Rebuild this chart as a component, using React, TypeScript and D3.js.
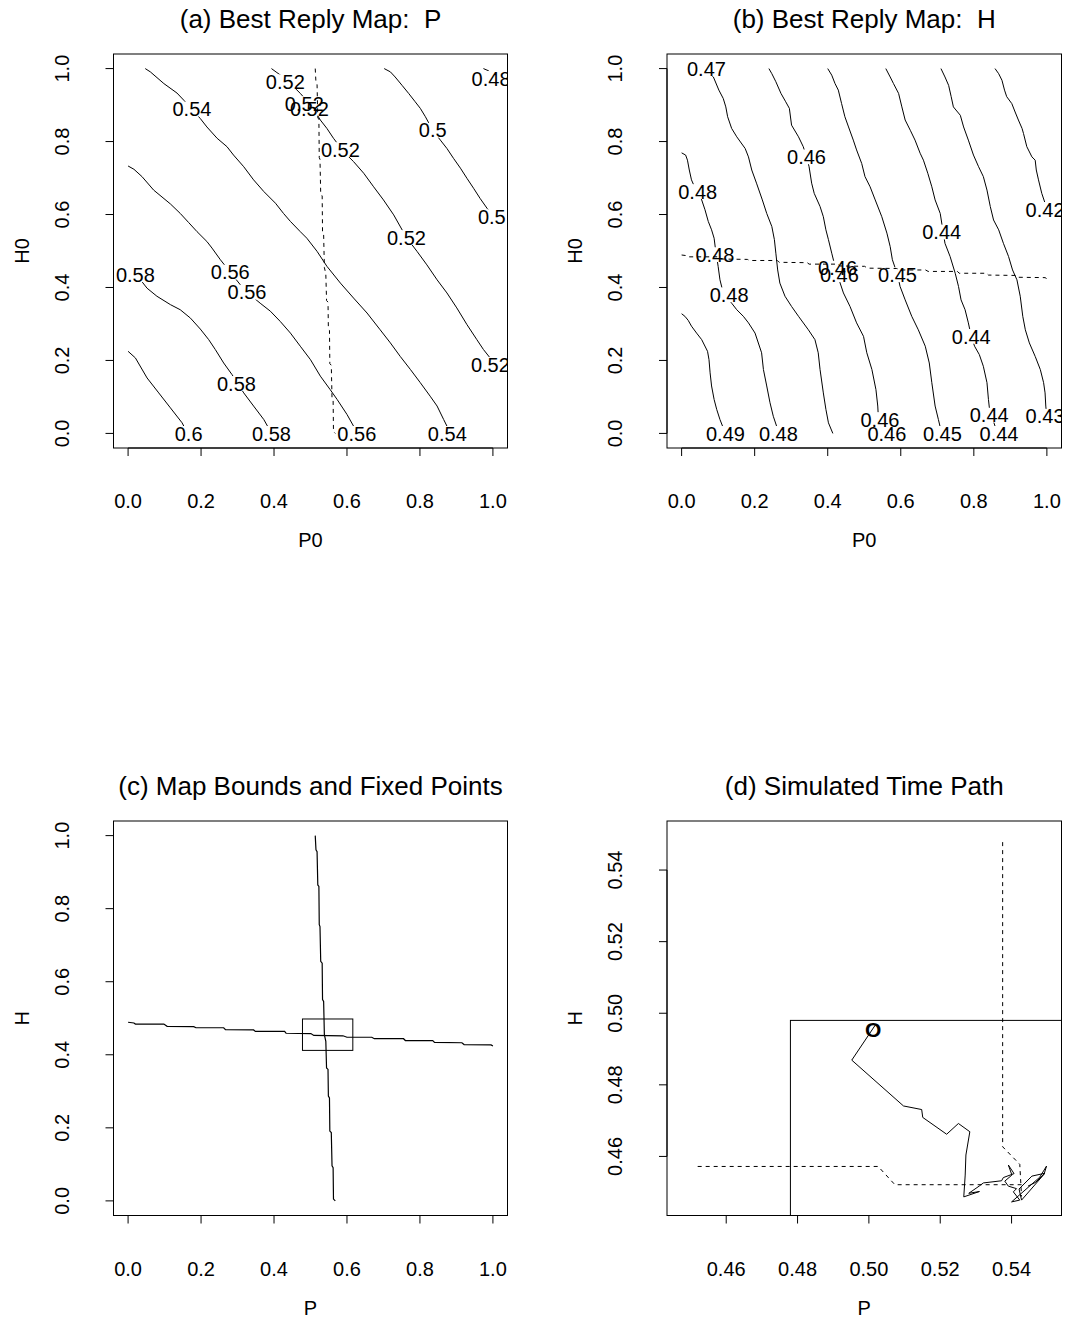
import React from "react";
import * as d3 from "d3";

type Pt = [number, number];

const W = 1069;
const H = 1319;
const FONT = "Liberation Sans, Arial, Helvetica, sans-serif";

// ---------------- data ----------------
const unitTicks = [0, 0.2, 0.4, 0.6, 0.8, 1.0];
const zoomTicks = [0.46, 0.48, 0.5, 0.52, 0.54];

// (a) best reply map for P: contour levels and lines (P0, H0)
const mapPLevels = ["0.6", "0.58", "0.56", "0.54", "0.52", "0.5", "0.48"];
const mapPLines: Pt[][] = [
  [[0, 0.225], [0.02, 0.207], [0.052, 0.152], [0.084, 0.111], [0.116, 0.07], [0.148, 0.029], [0.163, 0]],
  [[0, 0.453], [0.034, 0.421], [0.052, 0.398], [0.079, 0.376], [0.116, 0.353], [0.143, 0.339], [0.171, 0.316], [0.198, 0.286], [0.221, 0.257], [0.239, 0.23], [0.262, 0.193], [0.285, 0.161], [0.317, 0.111], [0.344, 0.075], [0.372, 0.038], [0.385, 0.015], [0.395, 0]],
  [[0, 0.733], [0.016, 0.724], [0.038, 0.704], [0.07, 0.667], [0.116, 0.629], [0.143, 0.603], [0.166, 0.578], [0.189, 0.553], [0.216, 0.526], [0.23, 0.508], [0.253, 0.476], [0.28, 0.442], [0.308, 0.407], [0.326, 0.387], [0.362, 0.357], [0.39, 0.335], [0.417, 0.307], [0.445, 0.275], [0.472, 0.239], [0.5, 0.202], [0.527, 0.157], [0.554, 0.12], [0.573, 0.093], [0.6, 0.052], [0.618, 0.02], [0.623, 0]],
  [[0.047, 1.0], [0.061, 0.991], [0.098, 0.959], [0.134, 0.933], [0.153, 0.913], [0.175, 0.889], [0.198, 0.863], [0.216, 0.84], [0.244, 0.809], [0.271, 0.786], [0.289, 0.763], [0.317, 0.731], [0.344, 0.695], [0.372, 0.663], [0.404, 0.631], [0.426, 0.603], [0.445, 0.581], [0.472, 0.553], [0.49, 0.535], [0.518, 0.499], [0.545, 0.458], [0.582, 0.412], [0.618, 0.371], [0.655, 0.33], [0.691, 0.284], [0.719, 0.248], [0.746, 0.211], [0.774, 0.175], [0.801, 0.139], [0.828, 0.102], [0.847, 0.075], [0.865, 0.038], [0.874, 0.02], [0.879, 0]],
  [[0.393, 1.0], [0.408, 0.989], [0.431, 0.973], [0.454, 0.95], [0.472, 0.932], [0.49, 0.912], [0.509, 0.888], [0.527, 0.859], [0.545, 0.836], [0.563, 0.809], [0.582, 0.784], [0.6, 0.763], [0.618, 0.745], [0.646, 0.713], [0.673, 0.676], [0.7, 0.64], [0.728, 0.599], [0.763, 0.537], [0.792, 0.499], [0.819, 0.462], [0.847, 0.421], [0.874, 0.385], [0.901, 0.344], [0.929, 0.298], [0.956, 0.257], [0.974, 0.23], [0.997, 0.201]],
  [[0.702, 1.0], [0.719, 0.991], [0.732, 0.977], [0.751, 0.954], [0.769, 0.932], [0.787, 0.909], [0.801, 0.891], [0.815, 0.868], [0.835, 0.831], [0.856, 0.804], [0.874, 0.781], [0.892, 0.754], [0.911, 0.727], [0.929, 0.699], [0.947, 0.672], [0.965, 0.644], [0.984, 0.617], [0.997, 0.603]],
  [[0.974, 1.0], [0.988, 0.994], [0.997, 0.986]],
];
// label: [line index, P0, H0]
const mapPLabels: [number, number, number][] = [
  [0, 0.166, 0],
  [1, 0.02, 0.435], [1, 0.297, 0.137], [1, 0.393, 0],
  [2, 0.28, 0.442], [2, 0.326, 0.387], [2, 0.627, 0],
  [3, 0.175, 0.889], [3, 0.875, 0],
  [4, 0.431, 0.964], [4, 0.483, 0.904], [4, 0.497, 0.891], [4, 0.582, 0.778], [4, 0.763, 0.537], [4, 0.993, 0.189],
  [5, 0.835, 0.831], [5, 0.997, 0.594],
  [6, 0.995, 0.973],
];

// (b) best reply map for H
const mapHLevels = ["0.49", "0.48", "0.47", "0.46", "0.45", "0.44", "0.43", "0.42"];
const mapHLines: Pt[][] = [
  [[0, 0.328], [0.009, 0.321], [0.018, 0.31], [0.027, 0.294], [0.041, 0.275], [0.055, 0.257], [0.071, 0.225], [0.075, 0.202], [0.078, 0.166], [0.082, 0.13], [0.089, 0.093], [0.096, 0.066], [0.105, 0.038], [0.114, 0.015], [0.119, 0]],
  [[0, 0.769], [0.011, 0.763], [0.016, 0.749], [0.021, 0.722], [0.027, 0.695], [0.037, 0.672], [0.055, 0.64], [0.064, 0.613], [0.073, 0.581], [0.082, 0.558], [0.089, 0.535], [0.093, 0.503], [0.1, 0.458], [0.105, 0.421], [0.114, 0.385], [0.137, 0.357], [0.151, 0.339], [0.169, 0.321], [0.183, 0.303], [0.201, 0.275], [0.219, 0.221], [0.224, 0.175], [0.233, 0.13], [0.242, 0.084], [0.251, 0.047], [0.26, 0.02], [0.265, 0]],
  [[0.064, 1.0], [0.073, 0.991], [0.087, 0.977], [0.102, 0.941], [0.114, 0.918], [0.121, 0.895], [0.126, 0.868], [0.137, 0.836], [0.151, 0.813], [0.174, 0.781], [0.183, 0.758], [0.192, 0.722], [0.205, 0.686], [0.221, 0.64], [0.233, 0.603], [0.247, 0.567], [0.254, 0.531], [0.258, 0.494], [0.263, 0.448], [0.269, 0.412], [0.283, 0.376], [0.301, 0.348], [0.32, 0.321], [0.347, 0.284], [0.365, 0.257], [0.374, 0.221], [0.379, 0.175], [0.388, 0.111], [0.395, 0.066], [0.402, 0.029], [0.414, 0]],
  [[0.239, 1.0], [0.247, 0.986], [0.258, 0.964], [0.272, 0.932], [0.285, 0.909], [0.295, 0.891], [0.301, 0.845], [0.32, 0.813], [0.333, 0.786], [0.342, 0.758], [0.349, 0.731], [0.356, 0.686], [0.363, 0.658], [0.379, 0.622], [0.388, 0.594], [0.395, 0.558], [0.402, 0.531], [0.411, 0.494], [0.42, 0.458], [0.431, 0.421], [0.443, 0.385], [0.461, 0.348], [0.479, 0.303], [0.498, 0.266], [0.507, 0.221], [0.521, 0.175], [0.532, 0.12], [0.537, 0.075], [0.539, 0.038], [0.553, 0.011], [0.557, 0]],
  [[0.4, 1.0], [0.411, 0.982], [0.42, 0.959], [0.429, 0.941], [0.438, 0.904], [0.447, 0.868], [0.457, 0.84], [0.47, 0.804], [0.479, 0.777], [0.493, 0.74], [0.502, 0.704], [0.516, 0.676], [0.53, 0.64], [0.548, 0.594], [0.562, 0.549], [0.571, 0.512], [0.577, 0.476], [0.591, 0.435], [0.598, 0.403], [0.612, 0.366], [0.63, 0.321], [0.648, 0.284], [0.667, 0.239], [0.678, 0.193], [0.685, 0.139], [0.694, 0.075], [0.703, 0.038], [0.712, 0]],
  [[0.559, 1.0], [0.571, 0.977], [0.58, 0.959], [0.594, 0.932], [0.603, 0.895], [0.612, 0.859], [0.626, 0.831], [0.639, 0.804], [0.653, 0.768], [0.662, 0.749], [0.674, 0.713], [0.685, 0.676], [0.694, 0.64], [0.708, 0.603], [0.716, 0.552], [0.721, 0.521], [0.735, 0.485], [0.749, 0.439], [0.758, 0.403], [0.765, 0.366], [0.776, 0.339], [0.785, 0.303], [0.793, 0.266], [0.802, 0.239], [0.815, 0.216], [0.826, 0.184], [0.836, 0.139], [0.84, 0.093], [0.843, 0.066], [0.858, 0.02], [0.868, 0]],
  [[0.71, 1.0], [0.721, 0.977], [0.731, 0.954], [0.738, 0.923], [0.744, 0.895], [0.763, 0.872], [0.772, 0.84], [0.785, 0.804], [0.799, 0.763], [0.813, 0.731], [0.826, 0.704], [0.836, 0.667], [0.845, 0.622], [0.854, 0.585], [0.868, 0.558], [0.881, 0.521], [0.895, 0.485], [0.906, 0.448], [0.918, 0.421], [0.927, 0.376], [0.934, 0.321], [0.941, 0.284], [0.952, 0.248], [0.968, 0.211], [0.982, 0.175], [0.991, 0.139], [0.995, 0.111], [0.997, 0.075], [1.0, 0.043]],
  [[0.858, 1.0], [0.868, 0.986], [0.877, 0.968], [0.884, 0.941], [0.89, 0.923], [0.904, 0.904], [0.913, 0.881], [0.922, 0.859], [0.932, 0.836], [0.936, 0.822], [0.945, 0.786], [0.959, 0.758], [0.968, 0.749], [0.971, 0.722], [0.977, 0.695], [0.986, 0.658], [0.995, 0.631], [1.0, 0.617]],
];
const mapHLabels: [number, number, number][] = [
  [0, 0.12, 0],
  [1, 0.044, 0.663], [1, 0.091, 0.49], [1, 0.13, 0.38], [1, 0.265, 0],
  [2, 0.068, 1.0],
  [3, 0.342, 0.758], [3, 0.427, 0.453], [3, 0.432, 0.435], [3, 0.543, 0.038], [3, 0.562, 0],
  [4, 0.591, 0.435], [4, 0.714, 0],
  [5, 0.712, 0.552], [5, 0.793, 0.266], [5, 0.842, 0.05], [5, 0.869, 0],
  [6, 0.995, 0.047],
  [7, 0.995, 0.614],
];

// fixed-point curves (P, H)
const fixedP: Pt[] = [[0.513, 1.0], [0.515, 0.961], [0.518, 0.956], [0.52, 0.865], [0.523, 0.861], [0.524, 0.756], [0.526, 0.751], [0.528, 0.656], [0.532, 0.651], [0.533, 0.551], [0.536, 0.546], [0.538, 0.455], [0.542, 0.437], [0.544, 0.364], [0.548, 0.36], [0.549, 0.287], [0.552, 0.282], [0.553, 0.191], [0.557, 0.187], [0.559, 0.096], [0.562, 0.091], [0.563, 0.005], [0.568, 0]];
const fixedH: Pt[] = [[0, 0.489], [0.016, 0.487], [0.02, 0.484], [0.098, 0.484], [0.107, 0.478], [0.18, 0.477], [0.186, 0.474], [0.262, 0.474], [0.267, 0.469], [0.344, 0.468], [0.349, 0.464], [0.429, 0.464], [0.433, 0.459], [0.501, 0.458], [0.509, 0.453], [0.589, 0.452], [0.6, 0.448], [0.668, 0.448], [0.675, 0.444], [0.755, 0.444], [0.76, 0.439], [0.835, 0.439], [0.84, 0.434], [0.915, 0.433], [0.921, 0.428], [0.995, 0.427], [1.0, 0.424]];

// map bounds
const boundP = [0.478, 0.616];
const boundH = [0.412, 0.498];

// (d) simulated path
const pathP = [0.502, 0.4952, 0.5097, 0.5148, 0.5151, 0.5218, 0.5251, 0.5283, 0.5272, 0.527, 0.5266, 0.531, 0.528, 0.5309, 0.5321, 0.5372, 0.5377, 0.5407, 0.5391, 0.5401, 0.5381, 0.5391, 0.5414, 0.5405, 0.5423, 0.54, 0.5479, 0.5498, 0.5491, 0.5428, 0.5421, 0.5457, 0.5493, 0.5468, 0.5446];
const pathH = [0.497, 0.4869, 0.4741, 0.4731, 0.4709, 0.4662, 0.4692, 0.4669, 0.4604, 0.4548, 0.4487, 0.4502, 0.4497, 0.4517, 0.4526, 0.4532, 0.4541, 0.4552, 0.4576, 0.4548, 0.4531, 0.4517, 0.451, 0.4501, 0.4478, 0.4473, 0.4542, 0.4573, 0.455, 0.4478, 0.4509, 0.4545, 0.4553, 0.4528, 0.4517];
const startMark: Pt = [0.5012, 0.4955];
const simFixPx = [0.5375, 0.5375, 0.5423, 0.5428];
const simFixPy = [0.5478, 0.4627, 0.4578, 0.4488];
const simFixHx = [0.452, 0.5026, 0.5073, 0.5428];
const simFixHy = [0.4572, 0.4572, 0.4521, 0.4521];

// ---------------- layout ----------------
type Box = { x0: number; x1: number; y0: number; y1: number };
const colL = [113.5, 507.5];
const colR = [667, 1061.5];
const rowT = [54, 448];
const rowB = [821, 1215.5];
const unitDomain: [number, number] = [-0.04, 1.04];

const FS = 20;
const TITLE_FS = 26;
const DASH = "4,4";

function textWidth(s: string, fs: number) {
  let w = 0;
  for (const c of s) w += c === "." ? 0.278 : 0.556;
  return w * fs;
}

type Scale = d3.ScaleLinear<number, number>;

function Panel(props: {
  id: string;
  box: Box;
  xDomain: [number, number];
  yDomain: [number, number];
  ticks: number[];
  fmt: (v: number) => string;
  title: string;
  xlab: string;
  ylab: string;
  children: (x: Scale, y: Scale) => React.ReactNode;
}) {
  const { id, box, xDomain, yDomain, ticks, fmt, title, xlab, ylab } = props;
  const x = d3.scaleLinear().domain(xDomain).range([box.x0, box.x1]);
  const y = d3.scaleLinear().domain(yDomain).range([box.y1, box.y0]);
  const cx = (box.x0 + box.x1) / 2;
  const cy = (box.y0 + box.y1) / 2;
  const tl = 8;
  return (
    <g>
      <defs>
        <clipPath id={`clip-${id}`}>
          <rect x={box.x0} y={box.y0} width={box.x1 - box.x0} height={box.y1 - box.y0} />
        </clipPath>
      </defs>
      <text x={cx} y={box.y0 - 26.5} textAnchor="middle" fontSize={TITLE_FS} fontFamily={FONT} style={{ whiteSpace: "pre" }}>
        {title}
      </text>
      <g clipPath={`url(#clip-${id})`}>{props.children(x, y)}</g>
      <rect x={box.x0} y={box.y0} width={box.x1 - box.x0} height={box.y1 - box.y0} fill="none" stroke="#000" strokeWidth={1} />
      {/* bottom axis */}
      <line x1={x(ticks[0])} x2={x(ticks[ticks.length - 1])} y1={box.y1} y2={box.y1} stroke="#000" />
      {ticks.map((t) => (
        <g key={`xt${t}`}>
          <line x1={x(t)} x2={x(t)} y1={box.y1} y2={box.y1 + tl} stroke="#000" />
          <text x={x(t)} y={box.y1 + 60} textAnchor="middle" fontSize={FS} fontFamily={FONT}>
            {fmt(t)}
          </text>
        </g>
      ))}
      {/* left axis */}
      <line x1={box.x0} x2={box.x0} y1={y(ticks[0])} y2={y(ticks[ticks.length - 1])} stroke="#000" />
      {ticks.map((t) => (
        <g key={`yt${t}`}>
          <line x1={box.x0 - tl} x2={box.x0} y1={y(t)} y2={y(t)} stroke="#000" />
          <text transform={`translate(${box.x0 - 45},${y(t)}) rotate(-90)`} textAnchor="middle" fontSize={FS} fontFamily={FONT}>
            {fmt(t)}
          </text>
        </g>
      ))}
      <text x={cx} y={box.y1 + 99} textAnchor="middle" fontSize={FS} fontFamily={FONT}>
        {xlab}
      </text>
      <text transform={`translate(${box.x0 - 85},${cy}) rotate(-90)`} textAnchor="middle" fontSize={FS} fontFamily={FONT}>
        {ylab}
      </text>
    </g>
  );
}

function Contours(props: {
  id: string;
  lines: Pt[][];
  levels: string[];
  labels: [number, number, number][];
  x: Scale;
  y: Scale;
}) {
  const { id, lines, levels, labels, x, y } = props;
  const fs = FS;
  const gen = d3.line<Pt>().x((d) => x(d[0])).y((d) => y(d[1]));
  return (
    <g>
      {lines.map((pts, i) => {
        const labs = labels.filter((l) => l[0] === i);
        const mid = `mask-${id}-${i}`;
        const tw = textWidth(levels[i], fs);
        const hh = fs * 0.74;
        return (
          <g key={i}>
            <mask id={mid} maskUnits="userSpaceOnUse" x={0} y={0} width={W} height={H}>
              <rect x={0} y={0} width={W} height={H} fill="white" />
              {labs.map((l, k) => (
                <rect key={k} x={x(l[1]) - tw / 2 - 1} y={y(l[2]) - hh / 2} width={tw + 2} height={hh} fill="black" />
              ))}
            </mask>
            <path d={gen(pts) || ""} fill="none" stroke="#000" strokeWidth={1} mask={`url(#${mid})`} />
            {labs.map((l, k) => (
              <text key={k} x={x(l[1])} y={y(l[2]) + 0.358 * fs} textAnchor="middle" fontSize={fs} fontFamily={FONT}>
                {levels[i]}
              </text>
            ))}
          </g>
        );
      })}
    </g>
  );
}

export default function App() {
  const f1 = d3.format(".1f");
  const f2 = d3.format(".2f");
  const boxA: Box = { x0: colL[0], x1: colL[1], y0: rowT[0], y1: rowT[1] };
  const boxB: Box = { x0: colR[0], x1: colR[1], y0: rowT[0], y1: rowT[1] };
  const boxC: Box = { x0: colL[0], x1: colL[1], y0: rowB[0], y1: rowB[1] };
  const boxD: Box = { x0: colR[0], x1: colR[1], y0: rowB[0], y1: rowB[1] };

  const lineOf = (x: Scale, y: Scale) => d3.line<Pt>().x((d) => x(d[0])).y((d) => y(d[1]));
  const zip = (a: number[], b: number[]): Pt[] => a.map((v, i) => [v, b[i]] as Pt);

  return (
    <svg
      width={W}
      height={H}
      viewBox={`0 0 ${W} ${H}`}
      style={{ position: "absolute", left: 0, top: 0, background: "#fff" }}
    >
      <rect x={0} y={0} width={W} height={H} fill="#fff" />
      <Panel id="a" box={boxA} xDomain={unitDomain} yDomain={unitDomain} ticks={unitTicks} fmt={f1}
        title={"(a) Best Reply Map:  P"} xlab="P0" ylab="H0">
        {(x, y) => (
          <g>
            <Contours id="a" lines={mapPLines} levels={mapPLevels} labels={mapPLabels} x={x} y={y} />
            <path d={lineOf(x, y)(fixedP) || ""} fill="none" stroke="#000" strokeDasharray={DASH} />
          </g>
        )}
      </Panel>
      <Panel id="b" box={boxB} xDomain={unitDomain} yDomain={unitDomain} ticks={unitTicks} fmt={f1}
        title={"(b) Best Reply Map:  H"} xlab="P0" ylab="H0">
        {(x, y) => (
          <g>
            <Contours id="b" lines={mapHLines} levels={mapHLevels} labels={mapHLabels} x={x} y={y} />
            <path d={lineOf(x, y)(fixedH) || ""} fill="none" stroke="#000" strokeDasharray={DASH} />
          </g>
        )}
      </Panel>
      <Panel id="c" box={boxC} xDomain={unitDomain} yDomain={unitDomain} ticks={unitTicks} fmt={f1}
        title="(c) Map Bounds and Fixed Points" xlab="P" ylab="H">
        {(x, y) => (
          <g>
            <path d={lineOf(x, y)(fixedP) || ""} fill="none" stroke="#000" strokeWidth={1.2} />
            <path d={lineOf(x, y)(fixedH) || ""} fill="none" stroke="#000" strokeWidth={1.2} />
            <rect x={x(boundP[0])} y={y(boundH[1])} width={x(boundP[1]) - x(boundP[0])} height={y(boundH[0]) - y(boundH[1])}
              fill="none" stroke="#000" />
          </g>
        )}
      </Panel>
      <Panel id="d" box={boxD} xDomain={[0.4434, 0.554]} yDomain={[0.4435, 0.5537]} ticks={zoomTicks} fmt={f2}
        title="(d) Simulated Time Path" xlab="P" ylab="H">
        {(x, y) => (
          <g>
            <rect x={x(boundP[0])} y={y(boundH[1])} width={x(boundP[1]) - x(boundP[0])} height={y(boundH[0]) - y(boundH[1])}
              fill="none" stroke="#000" />
            <path d={lineOf(x, y)(zip(simFixPx, simFixPy)) || ""} fill="none" stroke="#000" strokeDasharray={DASH} />
            <path d={lineOf(x, y)(zip(simFixHx, simFixHy)) || ""} fill="none" stroke="#000" strokeDasharray={DASH} />
            <path d={lineOf(x, y)(zip(pathP, pathH)) || ""} fill="none" stroke="#000" strokeWidth={1} strokeLinejoin="miter" />
            <text x={x(startMark[0])} y={y(startMark[1]) + 0.36 * 21} textAnchor="middle" fontSize={21} fontWeight="bold" fontFamily={FONT}>
              O
            </text>
          </g>
        )}
      </Panel>
    </svg>
  );
}
